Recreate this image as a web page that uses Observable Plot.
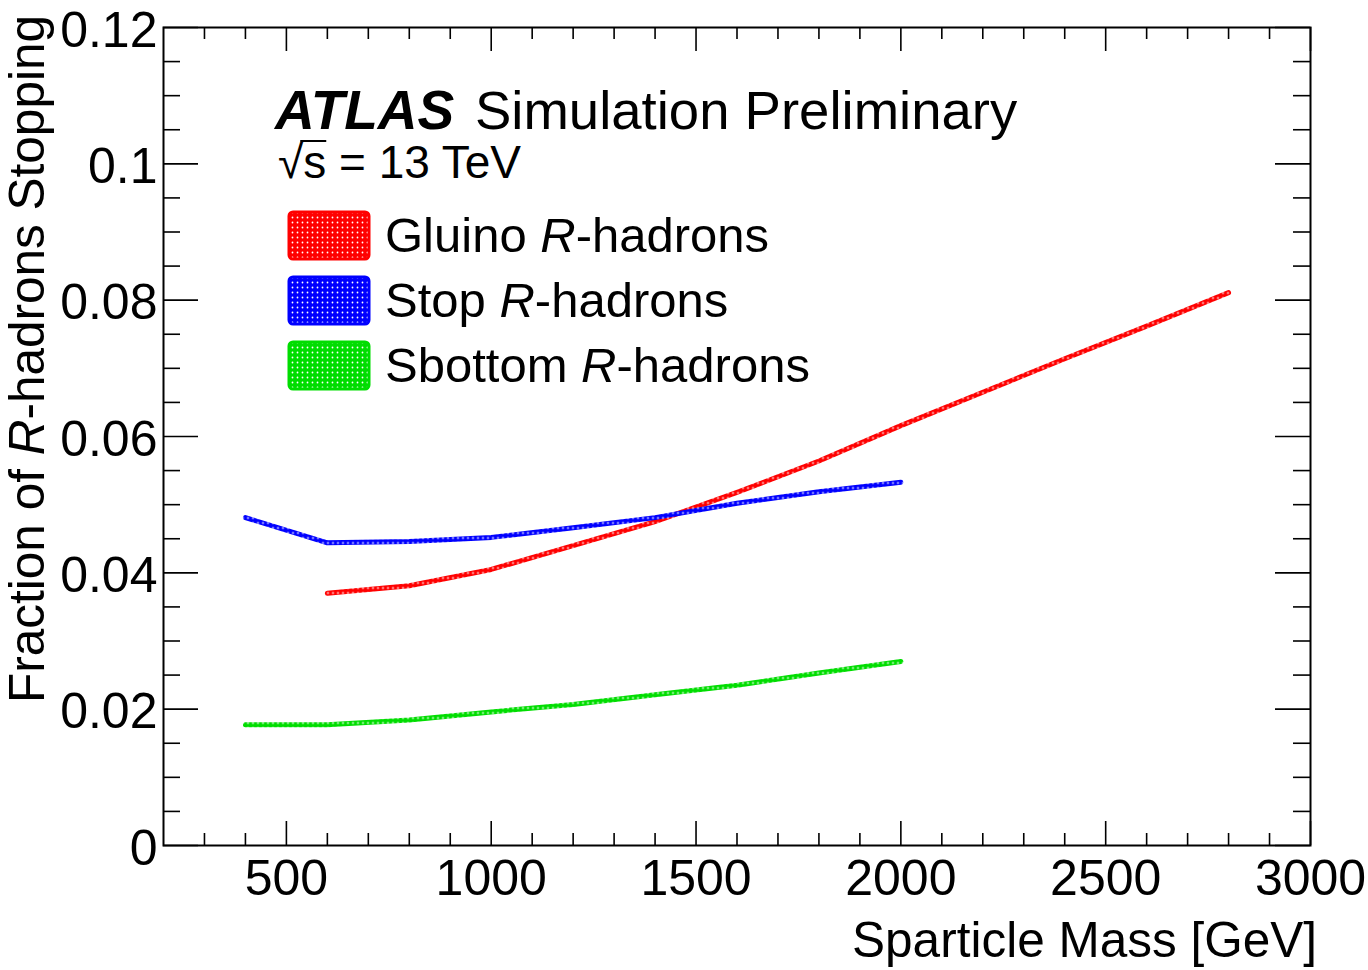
<!DOCTYPE html>
<html>
<head>
<meta charset="utf-8">
<script src="https://cdn.jsdelivr.net/npm/d3@7"></script>
<script src="https://cdn.jsdelivr.net/npm/@observablehq/plot@0.6"></script>
<style>
  html, body { margin: 0; padding: 0; background: #fff; }
  svg { display: block; }
</style>
</head>
<body>
<div id="chart"></div>
<script>
// Stopping fraction vs. sparticle mass, one band per R-hadron species
const massGluino = [600, 800, 1000, 1200, 1400, 1600, 1800, 2000, 2200, 2400, 2600, 2800];
const fracGluino = [0.0370, 0.0381, 0.0405, 0.0440, 0.0475, 0.0518, 0.0564, 0.0616, 0.0665, 0.0714, 0.0762, 0.0811];

const massStop = [400, 600, 800, 1000, 1200, 1400, 1600, 1800, 2000];
const fracStop = [0.0481, 0.0444, 0.0446, 0.0452, 0.0466, 0.0481, 0.0502, 0.0519, 0.0533];

const massSbottom = [400, 600, 800, 1000, 1200, 1400, 1600, 1800, 2000];
const fracSbottom = [0.0177, 0.0177, 0.0184, 0.0196, 0.0207, 0.0221, 0.0235, 0.0253, 0.0270];

const seriesNames = ["Gluino", "Stop", "Sbottom"];
const seriesColors = ["#ff0000", "#0000ff", "#00dd00"];

const xTickValues = [500, 1000, 1500, 2000, 2500, 3000];
const xTickLabels = ["500", "1000", "1500", "2000", "2500", "3000"];
const yTickValues = [0, 0.02, 0.04, 0.06, 0.08, 0.1, 0.12];
const yTickLabels = ["0", "0.02", "0.04", "0.06", "0.08", "0.1", "0.12"];

const FONT = "'Liberation Sans', Arial, Helvetica, sans-serif";

// Long table built from the series arrays
const rows = [
  ...massGluino.map((m, i) => ({series: "Gluino", mass: m, frac: fracGluino[i]})),
  ...massStop.map((m, i) => ({series: "Stop", mass: m, frac: fracStop[i]})),
  ...massSbottom.map((m, i) => ({series: "Sbottom", mass: m, frac: fracSbottom[i]}))
];

const W = 1368, H = 970;
const mL = 163, mR = 58, mT = 27, mB = 125;
const innerW = W - mL - mR;
const innerH = H - mT - mB;

// Inward ticks on all four sides (ROOT style)
const xMinor = d3.range(300, 3000, 100).filter(v => v % 500 !== 0);
const yMinor = d3.range(0, 0.1201, 0.005).map(v => +v.toFixed(3)).filter(v => Math.round(v * 1000) % 20 !== 0);
const tickStyle = {stroke: "#000", strokeWidth: 1.6};

const marks = [
  Plot.axisX(xTickValues, {
    tickSize: 0, tickPadding: 14, fontSize: 50, label: null,
    tickFormat: d => xTickLabels[xTickValues.indexOf(d)]
  }),
  Plot.axisY(yTickValues, {
    tickSize: 0, tickPadding: 6, fontSize: 50, label: null, dy: 3,
    tickFormat: d => yTickLabels[yTickValues.indexOf(d)]
  }),
  Plot.tickX(xTickValues, {x: d => d, insetTop: innerH - 24, ...tickStyle}),
  Plot.tickX(xTickValues, {x: d => d, insetBottom: innerH - 24, ...tickStyle}),
  Plot.tickX(xMinor, {x: d => d, insetTop: innerH - 12, ...tickStyle}),
  Plot.tickX(xMinor, {x: d => d, insetBottom: innerH - 12, ...tickStyle}),
  Plot.tickY(yTickValues, {y: d => d, insetRight: innerW - 35, ...tickStyle}),
  Plot.tickY(yTickValues, {y: d => d, insetLeft: innerW - 35, ...tickStyle}),
  Plot.tickY(yMinor, {y: d => d, insetRight: innerW - 17, ...tickStyle}),
  Plot.tickY(yMinor, {y: d => d, insetLeft: innerW - 17, ...tickStyle}),
  ...seriesNames.map((name, i) =>
    Plot.line(rows.filter(r => r.series === name), {
      x: "mass", y: "frac",
      stroke: `url(#hatch-${i})`, strokeWidth: 5, strokeLinejoin: "round"
    })
  ),
  Plot.frame({stroke: "#000", strokeWidth: 2})
];

const svgNode = Plot.plot({
  width: W, height: H,
  marginLeft: mL, marginRight: mR, marginTop: mT, marginBottom: mB,
  style: {fontFamily: FONT, color: "#000", background: "#fff"},
  x: {domain: [200, 3000]},
  y: {domain: [0, 0.12]},
  marks
});

document.getElementById("chart").appendChild(svgNode);
const svg = d3.select(svgNode);

// Dotted hatch fill for the bands and the legend swatches
const defs = svg.insert("defs", ":first-child");
seriesColors.forEach((c, i) => {
  const p = defs.append("pattern")
    .attr("id", `hatch-${i}`)
    .attr("patternUnits", "userSpaceOnUse")
    .attr("width", 5).attr("height", 5);
  p.append("rect").attr("width", 5).attr("height", 5).attr("fill", c);
  p.append("circle").attr("cx", 2.5).attr("cy", 2.5).attr("r", 0.9).attr("fill", "#fff");
});

const g = svg.append("g")
  .attr("font-family", FONT).attr("fill", "#000").attr("text-anchor", "start");

// Experiment label
g.append("text").attr("x", 275).attr("y", 129)
  .attr("font-size", 55).attr("font-weight", "bold").attr("font-style", "italic")
  .text("ATLAS");
g.append("text").attr("x", 475).attr("y", 129)
  .attr("font-size", 54.5).text("Simulation Preliminary");

// Centre-of-mass energy with overlined radical
const energy = g.append("text").attr("x", 278).attr("y", 178)
  .attr("font-size", 46).text("\u221As = 13 TeV");
const sq = energy.node().getExtentOfChar(0);
const sChar = energy.node().getExtentOfChar(1);
const barY = sq.y + 5;
g.append("line")
  .attr("x1", sq.x + sq.width - 3).attr("x2", sChar.x + sChar.width)
  .attr("y1", barY).attr("y2", barY)
  .attr("stroke", "#000").attr("stroke-width", 2);

// Legend
seriesNames.forEach((name, i) => {
  const y0 = 212 + 65 * i;
  g.append("rect").attr("x", 289).attr("y", y0).attr("width", 80).attr("height", 47)
    .attr("rx", 4).attr("fill", `url(#hatch-${i})`)
    .attr("stroke", seriesColors[i]).attr("stroke-width", 3);
  const t = g.append("text").attr("x", 385).attr("y", y0 + 40).attr("font-size", 49);
  t.append("tspan").text(name + " ");
  t.append("tspan").attr("font-style", "italic").text("R");
  t.append("tspan").text("-hadrons");
});

// Axis titles
const yt = g.append("text")
  .attr("transform", "translate(44,15) rotate(-90)")
  .attr("text-anchor", "end").attr("font-size", 49.5);
yt.append("tspan").text("Fraction of ");
yt.append("tspan").attr("font-style", "italic").text("R");
yt.append("tspan").text("-hadrons Stopping");

g.append("text").attr("x", 1317).attr("y", 957)
  .attr("text-anchor", "end").attr("font-size", 49.5)
  .text("Sparticle Mass [GeV]");
</script>
</body>
</html>
